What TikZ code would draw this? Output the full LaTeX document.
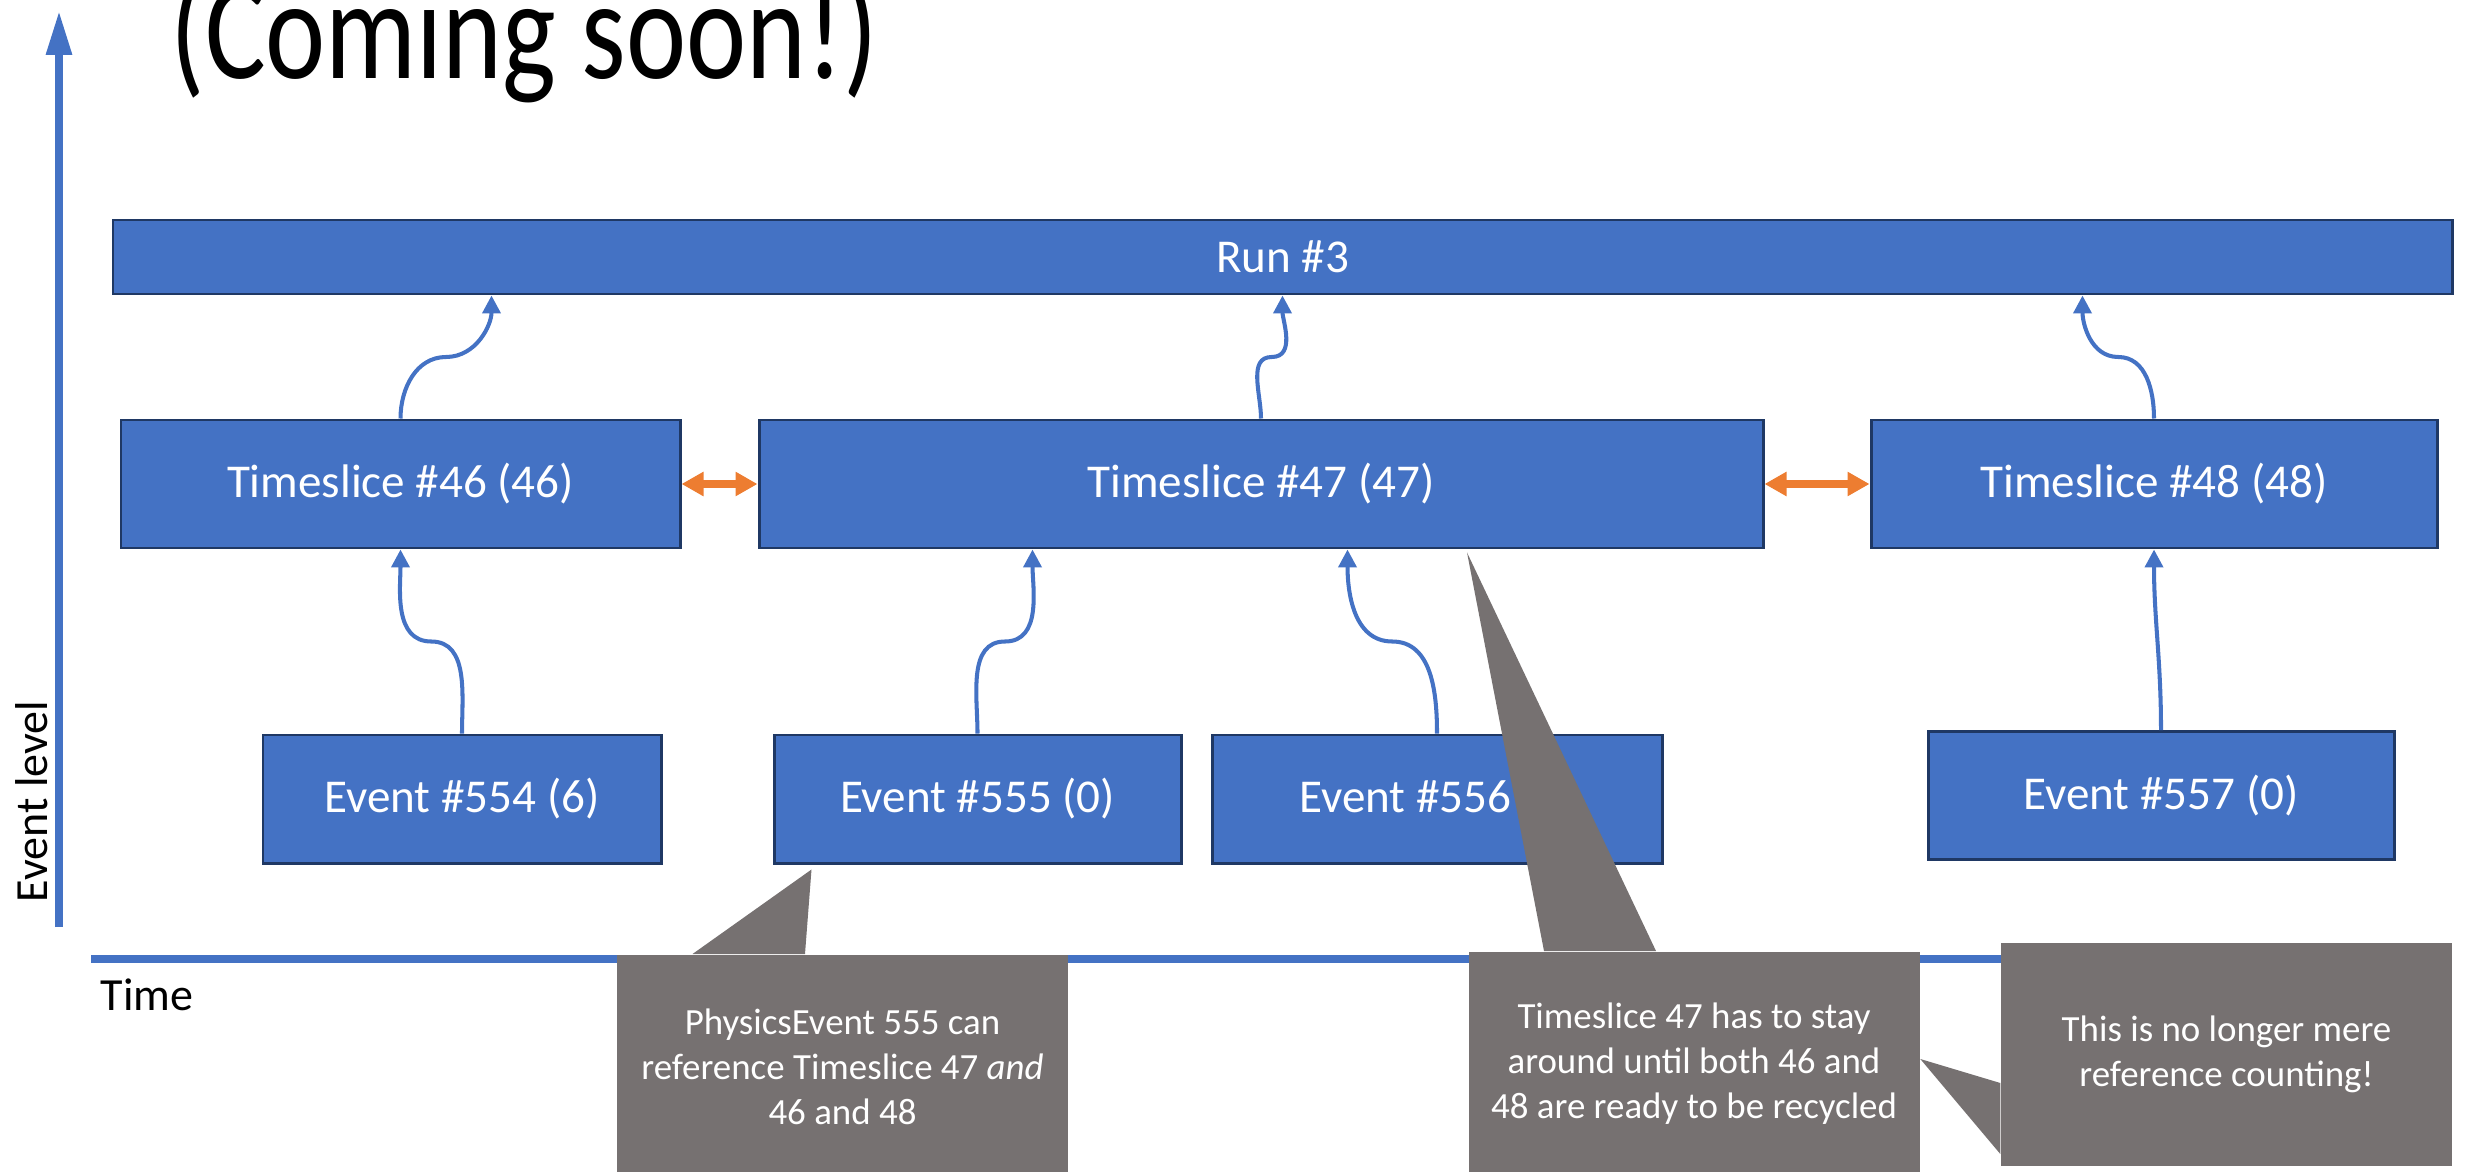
\documentclass[tikz,border=0pt]{standalone}
\usepackage{fontspec}
\setmainfont{Carlito}
\usetikzlibrary{arrows.meta,calc,positioning}
\definecolor{boxblue}{RGB}{68,114,196}
\definecolor{boxedge}{RGB}{31,56,100}
\definecolor{nbrorange}{RGB}{237,125,49}
\definecolor{notegray}{RGB}{118,113,113}

\begin{document}
\begin{tikzpicture}[>=Stealth,
  blockbox/.style={draw=boxedge,line width=0.85pt,fill=boxblue,text=white,inner sep=0pt,minimum height=1.28cm,font=\fontsize{13.4}{16}\selectfont},
  link/.style={boxblue,line width=1.15pt,-{Triangle[width=1.8mm,length=1.8mm]}},
  nbr/.style={nbrorange,line width=2.3pt,{Triangle[width=2.3mm,length=2.2mm]}-{Triangle[width=2.3mm,length=2.2mm]}},
  notebox/.style={fill=notegray,text=white,align=center,inner sep=0pt,minimum width=4.51cm,minimum height=2.24cm,font=\fontsize{10.5}{12.9}\selectfont},
  axis/.style={boxblue,line width=2.5pt}]
\useasboundingbox (0,0) rectangle (24.68,11.71);
\node[font=\fontsize{40.5}{44}\selectfont,anchor=base west,inner sep=0pt,xscale=0.8] (title) at (1.70,10.92) {(Coming soon!)};
% axes
\coordinate (ytop) at (0.59,11.61);
\coordinate (ybot) at (0.59,2.44);
\coordinate (xleft) at (0.91,2.12);
\coordinate (xright) at (23.00,2.12);
\draw[axis,-{Triangle[width=2.4mm,length=4.5mm]}] (ybot) -- (ytop);
\draw[axis,-{Triangle[width=2.4mm,length=4.5mm]}] (xleft) -- (xright);
\node[font=\fontsize{13.1}{15}\selectfont,anchor=base west,inner sep=0pt] (tlabel) at (1.00,1.61) {Time};
\node[font=\fontsize{13.1}{15}\selectfont,rotate=90,anchor=base,inner sep=0pt] (elabel) at (0.48,3.695) {Event level};
% run, timeslices, events
\node[blockbox,minimum width=23.39cm,minimum height=0.74cm] (run) at (12.825,9.14) {Run \#3};
\node[blockbox,minimum width=5.59cm] (ts46) at (4.005,6.87) {Timeslice \#46 (46)};
\node[blockbox,minimum width=10.04cm] (ts47) at (12.61,6.87) {Timeslice \#47 (47)};
\node[blockbox,minimum width=5.66cm] (ts48) at (21.54,6.87) {Timeslice \#48 (48)};
\node[blockbox,minimum width=3.98cm] (ev554) at (4.62,3.72) {Event \#554 (6)};
\node[blockbox,minimum width=4.07cm] (ev555) at (9.775,3.72) {Event \#555 (0)};
\node[blockbox,minimum width=4.50cm] (ev556) at (14.37,3.72) {Event \#556 (0)};
\node[blockbox,minimum width=4.66cm] (ev557) at (21.61,3.755) {Event \#557 (0)};
% references upwards
\coordinate (r46) at ([xshift=3.80cm]run.south west);
\coordinate (r48) at ([xshift=-3.71cm]run.south east);
\coordinate (t555) at ([xshift=2.75cm]ts47.south west);
\coordinate (t556) at ([xshift=5.90cm]ts47.south west);
\draw[link] (ts46.north) to[out=90,in=180] ($(ts46.north)!.5!(r46)$) to[out=0,in=-90] (r46);
\draw[link] (ts47.north) to[out=90,in=180] ($(ts47.north)!.5!(run.south)$) to[out=0,in=-90] (run.south);
\draw[link] (ts48.north) to[out=90,in=0] ($(ts48.north)!.5!(r48)$) to[out=180,in=-90] (r48);
\draw[link] (ev554.north) to[out=90,in=0] ($(ev554.north)!.5!(ts46.south)$) to[out=180,in=-90] (ts46.south);
\draw[link] (ev555.north) to[out=90,in=180] ($(ev555.north)!.5!(t555)$) to[out=0,in=-90] (t555);
\draw[link] (ev556.north) to[out=90,in=0] ($(ev556.north)!.5!(t556)$) to[out=180,in=-90] (t556);
\draw[link] (ev557.north) to[out=90,in=-90] (ts48.south);
% neighbours
\draw[nbr] (ts46.east) -- (ts47.west);
\draw[nbr] (ts47.east) -- (ts48.west);
% callouts
\node[notebox,anchor=north] (note555) at (8.425,2.17) {PhysicsEvent 555 can\\reference Timeslice 47 \textit{and}\\46 and 48};
\fill[notegray] ([xshift=-1.50cm]note555.north) -- ([xshift=0.39cm,yshift=-0.05cm]ev555.south west) -- ([xshift=-0.375cm]note555.north) -- cycle;
\node[notebox,anchor=north] (note47) at (16.94,2.20) {Timeslice 47 has to stay\\around until both 46 and\\48 are ready to be recycled};
\fill[notegray] ([xshift=-1.50cm]note47.north) -- ([xshift=2.06cm,yshift=-0.03cm]ts47.south) -- ([xshift=-0.38cm]note47.north) -- cycle;
\node[notebox,minimum height=2.23cm] (noteref) at (22.265,1.165) {This is no longer mere\\reference counting!};
\fill[notegray] ([yshift=-0.285cm]noteref.west) -- ([xshift=-0.80cm,yshift=-0.045cm]noteref.west) -- ([yshift=-0.995cm]noteref.west) -- cycle;
\end{tikzpicture}
\end{document}
